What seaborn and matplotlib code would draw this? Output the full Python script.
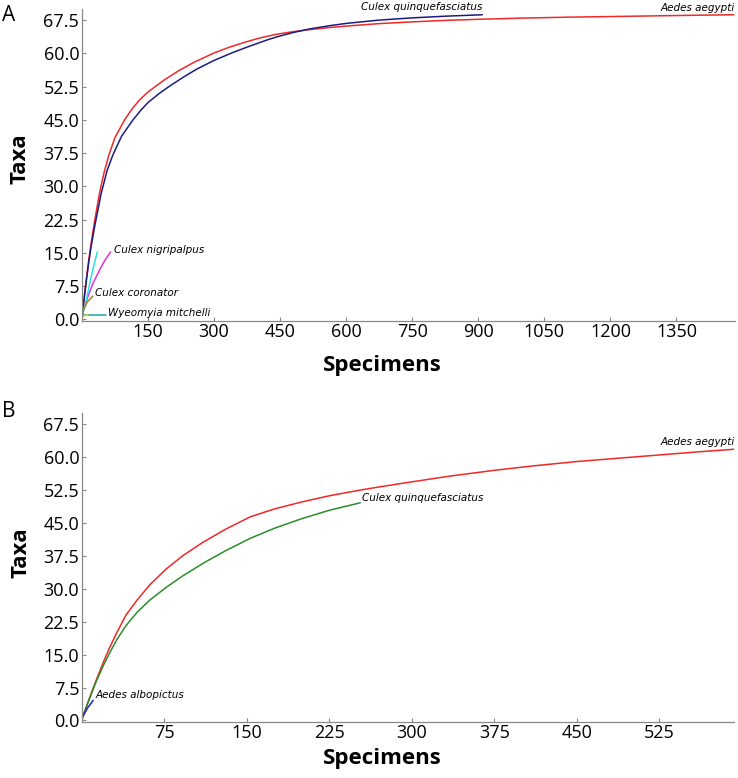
import matplotlib
matplotlib.use('Agg')
import matplotlib.pyplot as plt
import numpy as np
import seaborn as sns

# Panel A: rarefaction curves (specimens vs taxa)
aeg_a_x = [0, 1, 3, 6, 10, 15, 21, 29, 40, 50, 61, 75, 97, 115, 130, 148, 165, 190, 220, 255, 298, 335,
           370, 405, 442, 480, 517, 560, 600, 675, 750, 830, 909, 1000, 1100, 1200, 1300, 1400, 1480]
aeg_a_y = [0, 1, 2.9, 5.6, 9, 13, 17.2, 22.3, 28.5, 33.0, 37.0, 41.0, 45, 47.6, 49.4, 51.1, 52.4, 54.2,
           56.1, 58.0, 60, 61.4, 62.5, 63.5, 64.3, 64.9, 65.35, 65.8, 66.15, 66.7, 67.1, 67.45, 67.7,
           67.95, 68.15, 68.3, 68.45, 68.6, 68.7]
quinq_a_x = [0, 1, 3, 6, 10, 15, 21, 30, 44, 57, 70, 90, 116, 135, 150, 175, 199, 230, 260, 300, 343,
             375, 400, 420, 442, 480, 517, 560, 600, 675, 750, 830, 909]
quinq_a_y = [0, 1, 2.9, 5.5, 8.7, 12.5, 16.5, 21.5, 28.5, 33.5, 37, 41.3, 45, 47.3, 48.9, 50.9, 52.6,
             54.6, 56.4, 58.4, 60.2, 61.4, 62.3, 63.0, 63.7, 64.7, 65.5, 66.2, 66.75, 67.5, 68.0, 68.4, 68.7]
nigri_x = [1, 2, 6, 13.6, 25, 40, 52, 65]
nigri_y = [1, 1.35, 3.0, 5.1, 8.1, 11.1, 13.3, 15.2]
cyan_x = [1, 5, 10, 21, 28, 35]
cyan_y = [1, 2.3, 4.4, 9.6, 12.5, 15.2]
coron_x = [1, 3.8, 12, 25]
coron_y = [1, 2.1, 3.9, 5.25]
wyeo_x = [1, 55]
wyeo_y = [1, 1]
yellow_x = [0, 14]
yellow_y = [0.6, 1]

# Panel B
aeg_b_x = [0, 1, 3, 6, 10, 13.5, 20, 25, 31.7, 40, 50, 62, 77, 92, 110, 130, 153, 175, 200, 225, 253,
           275, 298, 335, 375, 410, 450, 490, 525, 560, 593]
aeg_b_y = [0, 1, 2.4, 4.5, 7.2, 9.5, 13.6, 16.5, 20.0, 24.0, 27.4, 31.0, 34.6, 37.6, 40.6, 43.5, 46.4,
           48.2, 49.8, 51.2, 52.5, 53.4, 54.3, 55.7, 57.0, 58.0, 59.0, 59.8, 60.5, 61.2, 61.8]
quinq_b_x = [0, 1, 3, 6, 10, 13.5, 20, 25, 31.7, 40, 50, 62, 77, 92, 110, 130, 153, 175, 200, 225, 253]
quinq_b_y = [0, 1, 2.4, 4.4, 7.0, 9.2, 12.8, 15.3, 18.4, 21.6, 24.6, 27.5, 30.4, 33.0, 35.8, 38.6, 41.5,
             43.8, 46.0, 47.9, 49.6]
albo_x = [1, 5, 10.3]
albo_y = [1, 2.8, 4.6]

yticks = [0.0, 7.5, 15.0, 22.5, 30.0, 37.5, 45.0, 52.5, 60.0, 67.5]
xticks_a = [150, 300, 450, 600, 750, 900, 1050, 1200, 1350]
xticks_b = [75, 150, 225, 300, 375, 450, 525]

sns.set_style('white')
plt.rcParams['font.family'] = ['Open Sans', 'DejaVu Sans']
plt.rcParams['text.color'] = 'black'
plt.rcParams['axes.labelcolor'] = 'black'
plt.rcParams['xtick.labelcolor'] = 'black'
plt.rcParams['ytick.labelcolor'] = 'black'

fig = plt.figure(figsize=(7.38, 7.78), dpi=100)
ax_a = fig.add_axes([0.111, 0.588, 0.885, 0.401])
ax_b = fig.add_axes([0.111, 0.0724, 0.884, 0.397])

lab = dict(fontsize=7.5, style='italic', family='DejaVu Sans', color='black')


def style_axis(ax, xticks, xlim, label_y, taxa_y):
    ax.set_ylim(-0.27, 70.1)
    ax.set_xlim(*xlim)
    ax.set_yticks(yticks)
    ax.set_yticklabels([f'{v:.1f}' for v in yticks])
    ax.set_xticks(xticks)
    ax.tick_params(axis='both', direction='in', length=3, width=0.8, color='#888888',
                   labelcolor='black', labelsize=13, pad=2, bottom=True, left=True)
    for s in ['top', 'right']:
        ax.spines[s].set_visible(False)
    for s in ['left', 'bottom']:
        ax.spines[s].set_color('#888888')
        ax.spines[s].set_linewidth(0.9)
    ax.set_xlabel('Specimens', fontsize=16, fontweight='bold', color='black')
    ax.set_ylabel('Taxa', fontsize=16, fontweight='bold', color='black')
    ax.xaxis.set_label_coords(0.46, label_y)
    ax.yaxis.set_label_coords(-0.078, taxa_y)


# panel A
sns.lineplot(x=aeg_a_x, y=aeg_a_y, ax=ax_a, color='#f02828', lw=1.1)
sns.lineplot(x=quinq_a_x, y=quinq_a_y, ax=ax_a, color='#1c1c80', lw=1.1)
sns.lineplot(x=nigri_x, y=nigri_y, ax=ax_a, color='#e030e0', lw=1.1)
sns.lineplot(x=cyan_x, y=cyan_y, ax=ax_a, color='#30e0e8', lw=1.1)
sns.lineplot(x=coron_x, y=coron_y, ax=ax_a, color='#a08030', lw=1.1)
sns.lineplot(x=wyeo_x, y=wyeo_y, ax=ax_a, color='#20a0a8', lw=1.1)
sns.lineplot(x=yellow_x, y=yellow_y, ax=ax_a, color='#e8d820', lw=1.1)
style_axis(ax_a, xticks_a, (0, 1483), -0.112, 0.52)

ax_a.text(909, 69.4, 'Culex quinquefasciatus', ha='right', va='bottom', clip_on=False, **lab)
ax_a.text(1483, 69.0, 'Aedes aegypti', ha='right', va='bottom', clip_on=False, **lab)
ax_a.text(73, 15.75, 'Culex nigripalpus', ha='left', va='center', **lab)
ax_a.text(29, 6.0, 'Culex coronator', ha='left', va='center', **lab)
ax_a.text(59, 1.5, 'Wyeomyia mitchelli', ha='left', va='center', **lab)

# panel B
sns.lineplot(x=aeg_b_x, y=aeg_b_y, ax=ax_b, color='#f02828', lw=1.1)
sns.lineplot(x=quinq_b_x, y=quinq_b_y, ax=ax_b, color='#2a8c2a', lw=1.1)
sns.lineplot(x=albo_x, y=albo_y, ax=ax_b, color='#2020d0', lw=1.1)
style_axis(ax_b, xticks_b, (0, 593), -0.085, 0.546)

ax_b.text(593, 62.2, 'Aedes aegypti', ha='right', va='bottom', clip_on=False, **lab)
ax_b.text(255, 50.6, 'Culex quinquefasciatus', ha='left', va='center', **lab)
ax_b.text(12, 5.7, 'Aedes albopictus', ha='left', va='center', **lab)

fig.text(0.003, 0.98, 'A', fontsize=15, ha='left', va='center', color='black')
fig.text(0.003, 0.471, 'B', fontsize=15, ha='left', va='center', color='black')

fig.savefig('out.png', dpi=100)
